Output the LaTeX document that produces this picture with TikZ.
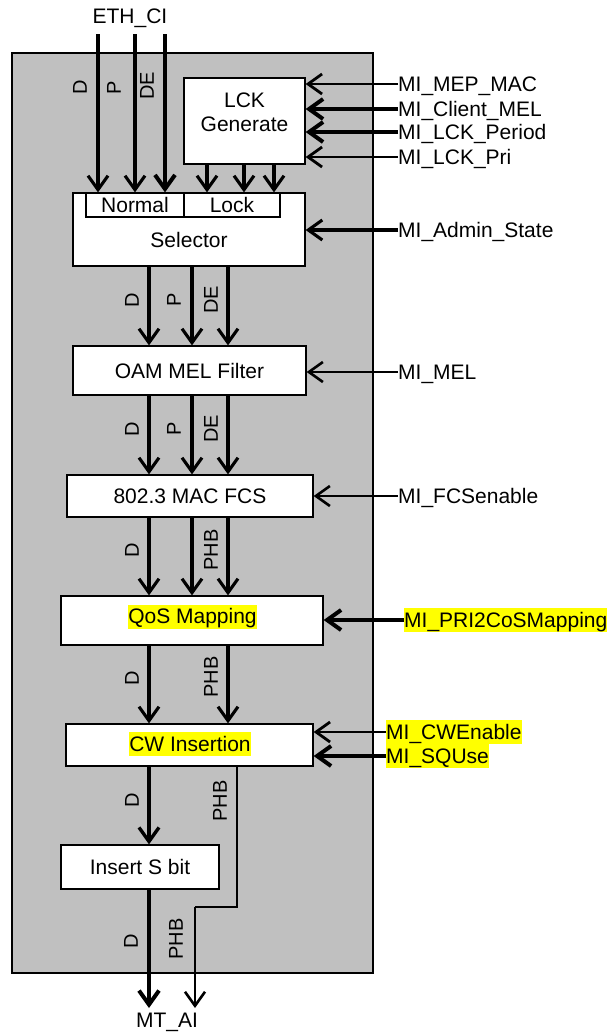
\documentclass[tikz,border=0pt]{standalone}
\usepackage{fontspec}
\setmainfont{Liberation Sans}
\usetikzlibrary{arrows.meta}
\definecolor{panelgray}{HTML}{C0C0C0}
\definecolor{hl}{HTML}{FFFF00}
\begin{document}
\begin{tikzpicture}[x=1pt,y=-1pt,
  every node/.style={font=\fontsize{21}{25}\selectfont},
  panelbox/.style={draw, fill=panelgray, line width=1.4pt, inner sep=0pt},
  box/.style={draw, fill=white, line width=1.3pt, inner sep=0pt},
  tip/.style={-{Straight Barb[length=14pt,width=20pt]}},
  fl/.style={tip, line width=2.6pt},
  fm/.style={tip, line width=3.1pt},
  fk/.style={tip, line width=4pt},
  wire/.style={line width=1.6pt},
  lab/.style={rotate=90, inner sep=0pt, font=\fontsize{20}{24}\selectfont},
  mi/.style={anchor=west, inner sep=0pt, text height=15pt, text depth=0pt},
  mih/.style={anchor=west, fill=hl, inner xsep=0pt, inner ysep=1pt, text height=18pt, text depth=4pt},
  hlt/.style={fill=hl, inner xsep=0pt, inner ysep=1pt, text height=18pt, text depth=4pt}
]
\useasboundingbox (0,0) rectangle (613,1034);

% panel
\node[panelbox, minimum width=361pt, minimum height=920pt] (panel) at (192.5,513) {};

% column coordinates
\coordinate (xD) at (149,0);
\coordinate (xP) at (192,0);
\coordinate (xE) at (228,0);
\coordinate (l1) at (207,0);
\coordinate (l2) at (244,0);
\coordinate (l3) at (274,0);
\coordinate (px) at (237,0);

% boxes
\node[box, minimum width=121pt, minimum height=86pt] (lck) at (244.5,121) {};
\node[align=center, inner sep=0pt] (lcktxt) at (244.5,112.5) {LCK\\[-1pt]Generate};
\node[box, minimum width=232pt, minimum height=73pt] (sel) at (189,229.5) {};
\node[inner sep=0pt] (seltxt) at (189,240) {Selector};
\node[box, minimum width=98pt, minimum height=24pt] (nor) at (135,205) {Normal};
\node[box, minimum width=96pt, minimum height=24pt] (lock) at (232,205) {Lock};
\node[box, minimum width=233pt, minimum height=49pt] (oam) at (189.5,370.5) {OAM MEL Filter};
\node[box, minimum width=246pt, minimum height=42pt] (fcs) at (190,496) {802.3 MAC FCS};
\node[box, minimum width=262pt, minimum height=49pt] (qos) at (192,620.5) {};
\node[hlt] (qostxt) at (192.5,616.5) {QoS Mapping};
\node[box, minimum width=247pt, minimum height=42pt] (cw) at (189.5,745) {};
\node[hlt] (cwtxt) at (190,744) {CW Insertion};
\node[box, minimum width=158pt, minimum height=44pt] (isb) at (140,867) {Insert S bit};

% ETH_CI inputs
\node (eth) at (130,18) {ETH\_CI};
\coordinate (e1) at (98,34);
\coordinate (e2) at (135,34);
\coordinate (e3) at (165,34);
\draw[fm] (e1) -- (nor.north -| e1);
\draw[fm] (e2) -- (nor.north -| e2);
\draw[fk] (e3) -- (nor.north -| e3);
\node[lab] (t1) at (80,87) {D};
\node[lab] (t2) at (114,88) {P};
\node[lab] (t3) at (147,86) {DE};

% LCK to Lock
\draw[fm] (lck.south -| l1) -- (lock.north -| l1);
\draw[fm] (lck.south -| l2) -- (lock.north -| l2);
\draw[fm] (lck.south -| l3) -- (lock.north -| l3);

% MI inputs
\node[mi] (mimep) at (398,84) {MI\_MEP\_MAC};
\node[mi] (micli) at (398,109) {MI\_Client\_MEL};
\node[mi] (miper) at (398,132) {MI\_LCK\_Period};
\node[mi] (mipri) at (398,157) {MI\_LCK\_Pri};
\node[mi] (miadm) at (398,230) {MI\_Admin\_State};
\node[mi] (mimel) at (398,372) {MI\_MEL};
\node[mi] (mifcs) at (398,496) {MI\_FCSenable};
\node[mih] (mipcm) at (404,620) {MI\_PRI2CoSMapping};
\node[mih] (micwe) at (386,732) {MI\_CWEnable};
\node[mih] (misqu) at (386,756) {MI\_SQUse};

\draw[fl, line width=2.8pt] (mimep.west) -- (lck.east |- mimep.west);
\draw[fk] (micli.west) -- (lck.east |- micli.west);
\draw[fk] (miper.west) -- (lck.east |- miper.west);
\draw[fl, line width=2.8pt] (mipri.west) -- (lck.east |- mipri.west);
\draw[fm] (miadm.west) -- (sel.east |- miadm.west);
\draw[fl] (mimel.west) -- (oam.east |- mimel.west);
\draw[fl] (mifcs.west) -- (fcs.east |- mifcs.west);
\draw[fk] (mipcm.west) -- (qos.east |- mipcm.west);
\draw[fl, line width=2.8pt] (micwe.west) -- (cw.east |- micwe.west);
\draw[fk] (misqu.west) -- (cw.east |- misqu.west);

% Selector -> OAM
\draw[fm] (sel.south -| xD) -- (oam.north -| xD);
\draw[fm] (sel.south -| xP) -- (oam.north -| xP);
\draw[fm] (sel.south -| xE) -- (oam.north -| xE);
\node[lab] (s1) at (132,300) {D};
\node[lab] (s2) at (174,300) {P};
\node[lab] (s3) at (211,300) {DE};

% OAM -> FCS
\draw[fm] (oam.south -| xD) -- (fcs.north -| xD);
\draw[fm] (oam.south -| xP) -- (fcs.north -| xP);
\draw[fm] (oam.south -| xE) -- (fcs.north -| xE);
\node[lab] (o1) at (132,429) {D};
\node[lab] (o2) at (174,429) {P};
\node[lab] (o3) at (211,429) {DE};

% FCS -> QoS
\draw[fm] (fcs.south -| xD) -- (qos.north -| xD);
\draw[fm] (fcs.south -| xP) -- (qos.north -| xP);
\draw[fm] (fcs.south -| xE) -- (qos.north -| xE);
\node[lab] (f1) at (132,550) {D};
\node[lab] (f3) at (211,550) {PHB};

% QoS -> CW
\draw[fm] (qos.south -| xD) -- (cw.north -| xD);
\draw[fm] (qos.south -| xE) -- (cw.north -| xE);
\node[lab] (q1) at (132,678) {D};
\node[lab] (q3) at (211,677) {PHB};

% CW -> Insert S bit / PHB wire
\draw[fm, line width=3.4pt] (cw.south -| xD) -- (isb.north -| xD);
\node[lab] (c1) at (132,800) {D};
\coordinate (bend) at (195,907);
\coordinate (outD) at (149,1008);
\coordinate (outP) at (195,1008);
\draw[wire] (cw.south -| px) |- (bend);
\node[lab] (c3) at (220,801) {PHB};

% outputs
\draw[fk] (isb.south -| xD) -- (outD);
\draw[fl] (bend) -- (outP);
\node[lab] (b1) at (131,941) {D};
\node[lab] (b3) at (176,939) {PHB};
\node (mtai) at (167,1022) {MT\_AI};
\end{tikzpicture}
\end{document}
